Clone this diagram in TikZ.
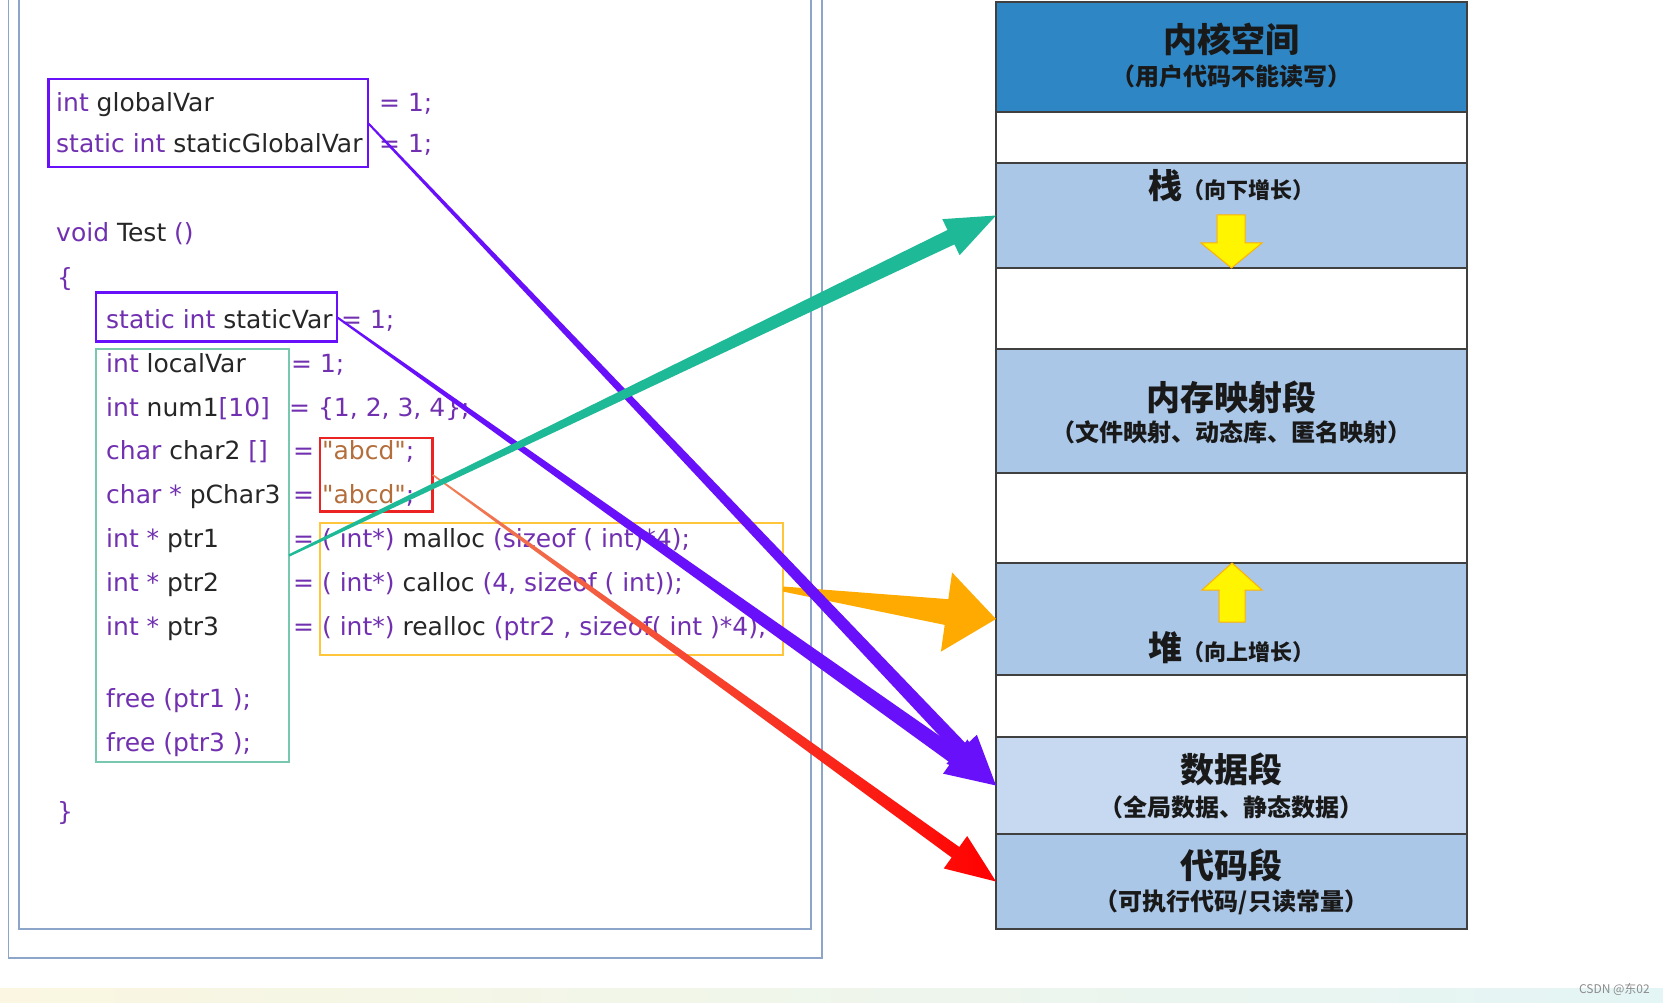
\documentclass[tikz,border=0pt]{standalone}
\usepackage{fontspec}
\setmainfont{DejaVu Sans}
\newfontfamily\cjk{Noto Sans CJK SC}
\usetikzlibrary{positioning,calc}

\definecolor{kwpurple}{RGB}{112,48,176}
\definecolor{idblack}{RGB}{38,38,38}
\definecolor{strbrown}{RGB}{180,110,60}
\definecolor{violetline}{RGB}{104,16,250}
\definecolor{tealline}{RGB}{30,185,150}
\definecolor{tealbox}{RGB}{120,200,175}
\definecolor{redline}{RGB}{255,0,0}
\definecolor{redbox}{RGB}{235,35,35}
\definecolor{orangeline}{RGB}{255,170,0}
\definecolor{yellowbox}{RGB}{255,198,60}
\definecolor{panelline}{RGB}{140,165,200}
\definecolor{kernelblue}{RGB}{46,134,197}
\definecolor{seglight}{RGB}{171,199,232}
\definecolor{segdata}{RGB}{198,217,240}
\definecolor{segline}{RGB}{64,64,64}
\definecolor{growyellow}{RGB}{255,245,0}

\tikzstyle{codeline} = [anchor=base west, inner sep=0pt, text=idblack,
    font=\fontsize{25}{30}\selectfont]
\tikzstyle{varbox} = [rectangle, draw, line width=2.5pt, inner sep=0pt,
    outer sep=0pt, anchor=north west]
\tikzstyle{seg} = [rectangle, draw=segline, line width=2pt, minimum width=471pt,
    inner sep=0pt, outer sep=0pt]
\tikzstyle{segtitle} = [font=\cjk\bfseries\fontsize{34}{40}\selectfont, text=black!90, inner sep=0pt]
\tikzstyle{segnote} = [font=\cjk\bfseries\fontsize{24}{28}\selectfont, text=black!90, inner sep=0pt]
\tikzstyle{growmark} = [fill=growyellow, draw=orange!60!yellow, line width=1pt]

\newcommand\kwd[1]{\textcolor{kwpurple}{#1}}
\newcommand\strlit[1]{\textcolor{strbrown}{\textquotedbl #1\textquotedbl}}
% tapered arrow: from, to, paint, start half width, end half width, head half width
\newcommand\memarrow[6]{%
  \coordinate (hb) at ($(#2)!50pt!(#1)$);
  \path[#3] ($(#1)!#4!90:(#2)$) -- ($(hb)!#5!-90:(#1)$) -- ($(hb)!#6!-90:(#1)$) -- (#2)
    -- ($(hb)!#6!90:(#1)$) -- ($(hb)!#5!90:(#1)$) -- ($(#1)!#4!-90:(#2)$) -- cycle;}

\begin{document}
\begin{tikzpicture}[x=1pt, y=-1pt]
  \useasboundingbox (0,0) rectangle (1663,1003);
  \clip (0,0) rectangle (1663,1003);
  \shade[left color={rgb,255:red,250;green,246;blue,225}, right color={rgb,255:red,228;green,245;blue,245}]
    (0,988) rectangle (1663,1003);

  % Code panel
  \draw[panelline, line width=1.8pt] (8.5,-10) rectangle (822,958);
  \draw[panelline, line width=1.8pt] (19,-10) rectangle (811,929);

  % Place nodes
  \node[codeline] (gvar) at (56,111.5) {\kwd{int} globalVar};
  \node[codeline] (sgvar) at (56,153) {\kwd{static int} staticGlobalVar};
  \node[codeline] (gvareq) at (379,111.5) {\kwd{= 1;}};
  \node[codeline] (sgvareq) at (379,153) {\kwd{= 1;}};
  \node[codeline] (test) at (56,241.5) {\kwd{void} Test \kwd{()}};
  \node[codeline] (lbrace) at (57,287) {\kwd{\{}};
  \node[codeline] (svar) at (106,328) {\kwd{static int} staticVar};
  \node[codeline] (svareq) at (341,328) {\kwd{= 1;}};
  \node[codeline] (lvar) at (106,372) {\kwd{int} localVar};
  \node[codeline] (lvareq) at (291,372) {\kwd{= 1;}};
  \node[codeline] (num) at (106,416) {\kwd{int} num1\kwd{[10]}};
  \node[codeline] (numeq) at (289,416) {\kwd{= \{1, 2, 3, 4\};}};
  \node[codeline] (chartwo) at (106,459) {\kwd{char} char2 \kwd{[]}};
  \node[codeline] (chartwoeq) at (293,459) {\kwd{=} \strlit{abcd}\kwd{;}};
  \node[codeline] (pchar) at (106,503) {\kwd{char *} pChar3};
  \node[codeline] (pchareq) at (293,503) {\kwd{=} \strlit{abcd}\kwd{;}};
  \node[codeline] (pone) at (106,547) {\kwd{int *} ptr1};
  \node[codeline] (poneeq) at (293,547) {\kwd{= ( int*)} malloc \kwd{(sizeof ( int)*4);}};
  \node[codeline] (ptwo) at (106,591) {\kwd{int *} ptr2};
  \node[codeline] (ptwoeq) at (293,591) {\kwd{= ( int*)} calloc \kwd{(4, sizeof ( int));}};
  \node[codeline] (pthree) at (106,635) {\kwd{int *} ptr3};
  \node[codeline] (pthreeeq) at (293,635) {\kwd{= ( int*)} realloc \kwd{(ptr2 , sizeof( int )*4);}};
  \node[codeline] (freeone) at (106,707) {\kwd{free (ptr1 );}};
  \node[codeline] (freethree) at (106,751) {\kwd{free (ptr3 );}};
  \node[codeline] (rbrace) at (57,820) {\kwd{\}}};

  % Boxes
  \node[varbox, draw=violetline, minimum width=319.3pt, minimum height=88pt] (globbox) at (48.7,79) {};
  \node[varbox, draw=violetline, minimum width=241pt, minimum height=49pt] (staticbox) at (96,292.7) {};
  \node[varbox, draw=tealbox, line width=2pt, minimum width=193pt, minimum height=413pt] (localbox) at (96,349) {};
  \node[varbox, draw=redbox, minimum width=112.7pt, minimum height=73.7pt] (strbox) at (320,438) {};
  \node[varbox, draw=yellowbox, minimum width=463pt, minimum height=132pt] (heapbox) at (320,523) {};

  % Memory layout
  \node[seg, fill=kernelblue, minimum height=110.5pt, anchor=north] (kernel) at (1231.5,2) {};
  \node[seg, fill=white, minimum height=50.5pt, below=0pt of kernel] (gapa) {};
  \node[seg, fill=seglight, minimum height=105pt, below=0pt of gapa] (stack) {};
  \node[seg, fill=white, minimum height=81pt, below=0pt of stack] (gapb) {};
  \node[seg, fill=seglight, minimum height=124pt, below=0pt of gapb] (mmap) {};
  \node[seg, fill=white, minimum height=90pt, below=0pt of mmap] (gapc) {};
  \node[seg, fill=seglight, minimum height=112pt, below=0pt of gapc] (heap) {};
  \node[seg, fill=white, minimum height=62pt, below=0pt of heap] (gapd) {};
  \node[seg, fill=segdata, minimum height=97pt, below=0pt of gapd] (data) {};
  \node[seg, fill=seglight, minimum height=95pt, below=0pt of data] (code) {};

  % Segment labels
  \node[segtitle] (kerneltitle) at (1231.5,39) {内核空间};
  \node[segnote] (kernelnote) at (1231.5,76) {（用户代码不能读写）};
  \node[segtitle, anchor=base] (stacktitle) at (1231.5,199) {栈{\fontsize{22}{26}\selectfont（向下增长）}};
  \node[segtitle] (mmaptitle) at (1231.5,397) {内存映射段};
  \node[segnote] (mmapnote) at (1231.5,432) {（文件映射、动态库、匿名映射）};
  \node[segtitle, anchor=base] (heaptitle) at (1231.5,660) {堆{\fontsize{22}{26}\selectfont（向上增长）}};
  \node[segtitle] (datatitle) at (1231.5,769) {数据段};
  \node[segnote] (datanote) at (1231.5,807) {（全局数据、静态数据）};
  \node[segtitle] (codetitle) at (1231.5,865) {代码段};
  \node[segnote] (codenote) at (1231.5,902) {（可执行代码/只读常量）};

  % Growth marks
  \filldraw[growmark] (1217,215) -- (1245,215) -- (1245,243) -- (1262,243) -- (1231.5,268)
    -- (1201,243) -- (1217,243) -- cycle;
  \filldraw[growmark] (1232,563) -- (1262,590) -- (1245,590) -- (1245,622) -- (1219,622)
    -- (1219,590) -- (1202,590) -- cycle;

  % Draw edges
  \memarrow{heapbox.east}{heap.west}{fill=orangeline}{2.5pt}{13pt}{40pt}
  \memarrow{strbox.east}{code.west}{left color={rgb,255:red,238;green,130;blue,90}, middle color=redline, right color=redline}{0.8pt}{6.5pt}{20pt}
  \memarrow{globbox.east}{data.west}{fill=violetline}{1pt}{7pt}{21pt}
  \memarrow{staticbox.east}{data.west}{fill=violetline}{1pt}{8pt}{21pt}
  \memarrow{localbox.east}{stack.west}{fill=tealline}{1.2pt}{8pt}{20pt}

  % Mark
  \node[font=\cjk\fontsize{12}{14}\selectfont, text=black!45, anchor=east, inner sep=0pt] (mark) at (1650,989) {CSDN @东02};
\end{tikzpicture}
\end{document}
